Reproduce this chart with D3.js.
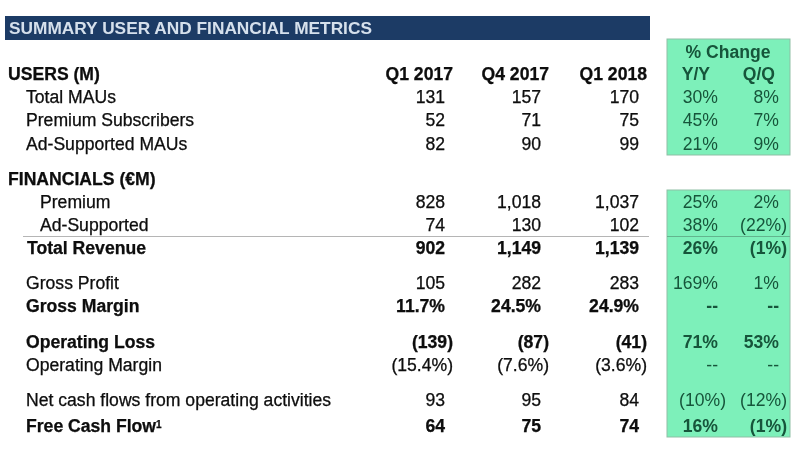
<!DOCTYPE html>
<html>
<head>
<meta charset="utf-8">
<script src="https://cdn.jsdelivr.net/npm/d3@7"></script>
<style>
body { margin: 0; background: #fff; }
text { font-family: "Liberation Sans", Arial, sans-serif; stroke-width: 0.25px; }
</style>
</head>
<body>
<div id="chart-area"></div>
<script>
var width = 800, height = 450;
var fontSize = "17.6px";
var ink = "#0a0a0a", changeInk = "#17543a";

// Table content
var periods = ["Q1 2017", "Q4 2017", "Q1 2018"];
var changeCols = ["Y/Y", "Q/Q"];
var rowKeys = ["users", "mau", "subs", "adMau", "fin", "prem", "adRev", "total",
    "gp", "gm", "ol", "om", "ncf", "fcf"];
var rowLabels = ["USERS (M)", "Total MAUs", "Premium Subscribers", "Ad-Supported MAUs",
    "FINANCIALS (€M)", "Premium", "Ad-Supported", "Total Revenue",
    "Gross Profit", "Gross Margin", "Operating Loss", "Operating Margin",
    "Net cash flows from operating activities", "Free Cash Flow"];
var boldRows = ["users", "fin", "total", "gm", "ol", "fcf"];
var q12017 = ["", "131", "52", "82", "", "828", "74", "902", "105", "11.7%", "(139)", "(15.4%)", "93", "64"];
var q42017 = ["", "157", "71", "90", "", "1,018", "130", "1,149", "282", "24.5%", "(87)", "(7.6%)", "95", "75"];
var q12018 = ["", "170", "75", "99", "", "1,037", "102", "1,139", "283", "24.9%", "(41)", "(3.6%)", "84", "74"];
var yoy = ["", "30%", "45%", "21%", "", "25%", "38%", "26%", "169%", "--", "71%", "--", "(10%)", "16%"];
var qoq = ["", "8%", "7%", "9%", "", "2%", "(22%)", "(1%)", "1%", "--", "53%", "--", "(12%)", "(1%)"];

var y = d3.scaleOrdinal()
    .domain(rowKeys)
    .range([74, 97, 120, 144, 179, 202, 225, 248, 283, 306, 342, 365, 400, 426]);

// Right edge of each number column
var x = d3.scaleOrdinal()
    .domain(periods.concat(changeCols))
    .range([445, 541, 639, 718, 779]);

// Label indent per row
var indent = d3.scaleOrdinal()
    .domain(rowKeys)
    .range([8, 26, 26, 26, 8, 40, 40, 27, 26, 26, 26, 26, 26, 26]);

var svg = d3.select("#chart-area")
    .append("svg")
        .attr("width", width)
        .attr("height", height);

var defs = svg.append("defs");
defs.append("filter").attr("id", "soft")
    .append("feGaussianBlur").attr("stdDeviation", 0.45);

var g = svg.append("g").attr("filter", "url(#soft)");

// Title bar
g.append("rect")
    .attr("x", 5).attr("y", 16)
    .attr("width", 645).attr("height", 24)
    .attr("fill", "#1f3b65");
g.append("text")
    .attr("x", 9).attr("y", 34)
    .attr("font-size", "17.3px")
    .attr("font-weight", "bold")
    .attr("fill", "#d5e0ec")
    .text("SUMMARY USER AND FINANCIAL METRICS");

// Green boxes
[[39, 155], [190, 437]].forEach(function(b) {
    g.append("rect")
        .attr("x", 667).attr("y", b[0])
        .attr("width", 123).attr("height", b[1] - b[0])
        .attr("fill", "#7df0ba")
        .attr("stroke", "#8fbfa5")
        .attr("stroke-width", 1);
});

// Rule above total revenue
g.append("line")
    .attr("x1", 23).attr("x2", 649)
    .attr("y1", 236.5).attr("y2", 236.5)
    .attr("stroke", "#b5b5b5")
    .attr("stroke-width", 1);
g.append("line")
    .attr("x1", 667).attr("x2", 790)
    .attr("y1", 236.5).attr("y2", 236.5)
    .attr("stroke", "#62b58e")
    .attr("stroke-width", 1);

function isBold(key) { return boldRows.indexOf(key) >= 0; }

// Row labels
g.selectAll(".label")
    .data(rowKeys)
    .enter().append("text")
        .attr("class", "label")
        .attr("x", function(d) { return indent(d); })
        .attr("y", function(d) { return y(d); })
        .attr("dy", "0.36em")
        .attr("font-size", fontSize)
        .attr("font-weight", function(d) { return isBold(d) ? "bold" : "normal"; })
        .attr("fill", ink)
        .attr("stroke", ink)
        .text(function(d, i) { return rowLabels[i]; });

// Footnote mark
g.selectAll(".label")
    .filter(function(d) { return d == "fcf"; })
    .append("tspan")
        .attr("dy", "-0.4em")
        .attr("font-size", "10px")
        .text("1");

// Header rows
g.selectAll(".period")
    .data(periods)
    .enter().append("text")
        .attr("class", "period")
        .attr("x", function(d) { return x(d) + 8; })
        .attr("y", y("users"))
        .attr("dy", "0.36em")
        .attr("text-anchor", "end")
        .attr("font-size", fontSize)
        .attr("font-weight", "bold")
        .attr("fill", ink)
        .attr("stroke", ink)
        .text(function(d) { return d; });

g.append("text")
    .attr("x", 728).attr("y", 52)
    .attr("dy", "0.36em")
    .attr("text-anchor", "middle")
    .attr("font-size", fontSize)
    .attr("font-weight", "bold")
    .attr("fill", changeInk)
    .text("% Change");

g.selectAll(".change-head")
    .data(changeCols)
    .enter().append("text")
        .attr("class", "change-head")
        .attr("x", function(d) { return x(d) - (d == "Y/Y" ? 8 : 4); })
        .attr("y", y("users"))
        .attr("dy", "0.36em")
        .attr("text-anchor", "end")
        .attr("font-size", fontSize)
        .attr("font-weight", "bold")
        .attr("fill", changeInk)
        .text(function(d) { return d; });

// Value columns
function drawColumn(name, values, color) {
    g.selectAll(".col-" + name.replace(/\W/g, ""))
        .data(values)
        .enter().append("text")
            .attr("class", "col-" + name.replace(/\W/g, ""))
            .attr("x", function(d) {
                // closing parens hang past the column edge
                return x(name) + (d.slice(-1) == ")" ? 8 : 0);
            })
            .attr("y", function(d, i) { return y(rowKeys[i]); })
            .attr("dy", "0.36em")
            .attr("text-anchor", "end")
            .attr("font-size", fontSize)
            .attr("font-weight", function(d, i) { return isBold(rowKeys[i]) ? "bold" : "normal"; })
            .attr("fill", color)
            .attr("stroke", color == ink ? ink : "none")
            .text(function(d) { return d; });
}

drawColumn(periods[0], q12017, ink);
drawColumn(periods[1], q42017, ink);
drawColumn(periods[2], q12018, ink);
drawColumn(changeCols[0], yoy, changeInk);
drawColumn(changeCols[1], qoq, changeInk);
</script>
</body>
</html>
